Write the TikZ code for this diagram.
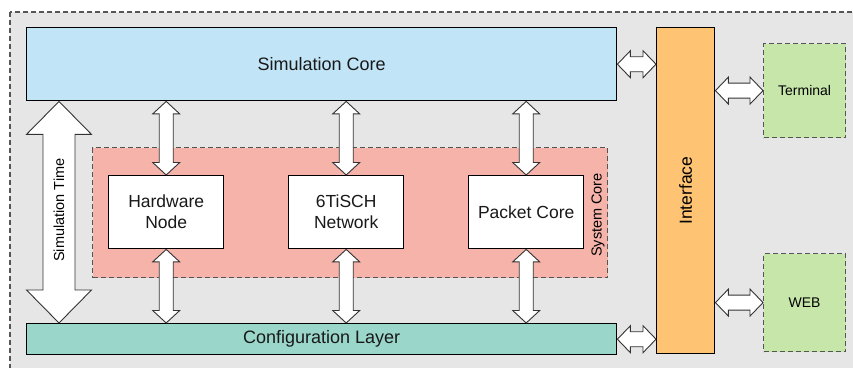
\documentclass[tikz,border=0pt]{standalone}
\usepackage{fontspec}
\setmainfont{Liberation Sans}
\usetikzlibrary{calc}
\definecolor{bggray}{HTML}{E6E6E6}
\definecolor{dashgray}{HTML}{555555}
\definecolor{simblue}{HTML}{C1E4F6}
\definecolor{cfgteal}{HTML}{9AD6CA}
\definecolor{ifaceorange}{HTML}{FFC473}
\definecolor{syspink}{HTML}{F5B3A9}
\definecolor{extgreen}{HTML}{C7E7AA}
\definecolor{arrgray}{HTML}{333333}
\newcommand{\vdarrow}[5]{%
  \draw[dbl] let \p1=(#1), \p2=(#2) in
    (\x1,\y1) -- (\x1+#4,\y1-#5) -- (\x1+#3,\y1-#5) -- (\x1+#3,\y2+#5) -- (\x1+#4,\y2+#5)
    -- (\x1,\y2) -- (\x1-#4,\y2+#5) -- (\x1-#3,\y2+#5) -- (\x1-#3,\y1-#5) -- (\x1-#4,\y1-#5) -- cycle;}
\newcommand{\hdarrow}[5]{%
  \draw[dbl] let \p1=(#1), \p2=(#2) in
    (\x1,\y1) -- (\x1+#5,\y1+#4) -- (\x1+#5,\y1+#3) -- (\x2-#5,\y1+#3) -- (\x2-#5,\y1+#4)
    -- (\x2,\y1) -- (\x2-#5,\y1-#4) -- (\x2-#5,\y1-#3) -- (\x1+#5,\y1-#3) -- (\x1+#5,\y1-#4) -- cycle;}
\tikzset{
  box/.style={draw=black, line width=1.4pt, inner sep=0pt, anchor=north west, text=black!90},
  ext/.style={draw=dashgray, dash pattern=on 5pt off 3pt, line width=1.2pt, fill=extgreen, inner sep=0pt, anchor=north west, font=\fontsize{14}{17}\selectfont},
  dbl/.style={draw=arrgray, line width=0.9pt, fill=white, line join=miter},
  big/.style={font=\fontsize{18}{21}\selectfont},
  mid/.style={font=\fontsize{17.5}{21}\selectfont, align=center},
}
\begin{document}
\begin{tikzpicture}[x=1pt,y=-1pt]
\useasboundingbox (0,0) rectangle (853,367);
\begin{scope}
\clip (0,0) rectangle (853,367);
\draw[draw=dashgray, fill=bggray, dash pattern=on 5pt off 3pt, line width=1.2pt] (10,12) rectangle (870,385);
\end{scope}
% system core region
\node[draw=dashgray, fill=syspink, dash pattern=on 5pt off 3pt, line width=1.2pt, inner sep=0pt, anchor=north west,
      minimum width=515pt, minimum height=130pt] (sys) at (92,147) {};
\node[rotate=90, font=\fontsize{14.5}{17}\selectfont] (syslab) at (598,215) {System Core};
% main boxes
\node[box, fill=simblue, big, minimum width=590pt, minimum height=73pt] (sc) at (26,27) {Simulation Core};
\node[box, fill=cfgteal, big, minimum width=590pt, minimum height=31pt] (cl) at (26,323) {Configuration Layer};
\node[box, fill=ifaceorange, minimum width=58pt, minimum height=326pt] (ifc) at (656,27) {};
\node[rotate=90, font=\fontsize{17.5}{21}\selectfont] (ifclab) at (ifc.center) {Interface};
\node[box, fill=white, mid, minimum width=115pt, minimum height=73pt] (hw) at (108,175) {Hardware\\Node};
\node[box, fill=white, mid, minimum width=115pt, minimum height=73pt] (ts) at (288,175) {6TiSCH\\Network};
\node[box, fill=white, mid, minimum width=115pt, minimum height=73pt] (pc) at (468,175) {Packet Core};
\node[ext, minimum width=82pt, minimum height=94pt] (term) at (763,43) {Terminal};
\node[ext, minimum width=82pt, minimum height=98pt] (web) at (763,253) {WEB};
% vertical double arrows
\vdarrow{sc.south -| hw.north}{hw.north}{7pt}{13.5pt}{12.5pt}
\vdarrow{sc.south -| ts.north}{ts.north}{7pt}{13.5pt}{12.5pt}
\vdarrow{sc.south -| pc.north}{pc.north}{7pt}{13.5pt}{12.5pt}
\vdarrow{hw.south}{cl.north -| hw.south}{7pt}{13.5pt}{12.5pt}
\vdarrow{ts.south}{cl.north -| ts.south}{7pt}{13.5pt}{12.5pt}
\vdarrow{pc.south}{cl.north -| pc.south}{7pt}{13.5pt}{12.5pt}
% simulation time
\coordinate (stx) at (59,0);
\vdarrow{sc.south -| stx}{cl.north -| stx}{16pt}{32.5pt}{33pt}
\node[rotate=90, font=\fontsize{14.5}{17}\selectfont] (stlab) at (59,210) {Simulation Time};
% horizontal double arrows
\hdarrow{sc.east}{ifc.west |- sc.east}{7.5pt}{13.5pt}{13pt}
\hdarrow{cl.east}{ifc.west |- cl.east}{7.5pt}{13.5pt}{13pt}
\hdarrow{ifc.east |- term.west}{term.west}{7.5pt}{13.5pt}{13pt}
\hdarrow{ifc.east |- web.west}{web.west}{7.5pt}{13.5pt}{13pt}
\end{tikzpicture}
\end{document}
